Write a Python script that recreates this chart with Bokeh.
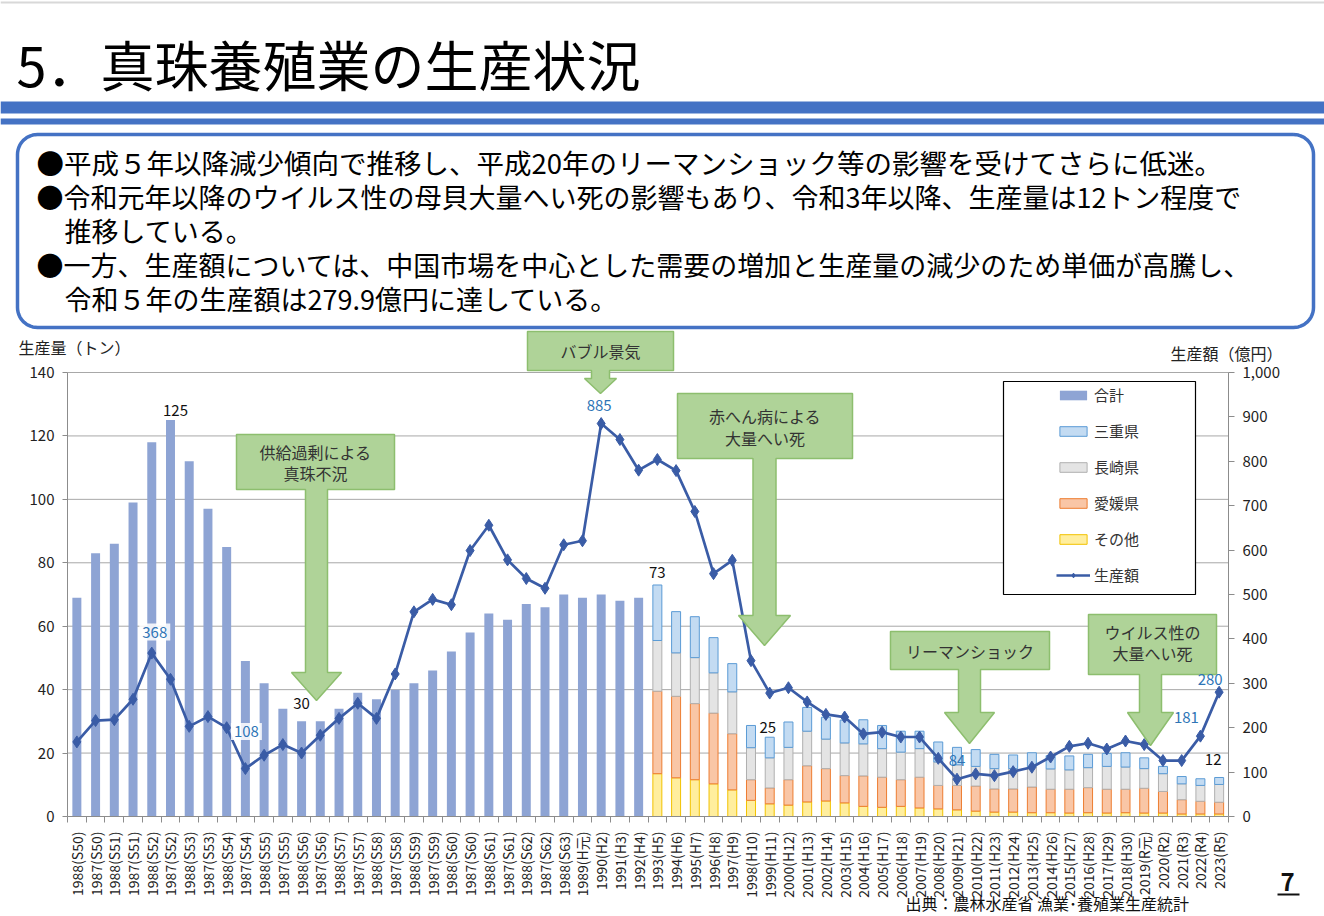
import numpy as np
from bokeh.plotting import figure
from bokeh.models import (Range1d, LinearAxis, FixedTicker, NumeralTickFormatter,
                          Label, Legend, LegendItem)
from bokeh.embed import file_html
from bokeh.resources import INLINE

FONT = "Noto Sans CJK JP"

# ---- data ---------------------------------------------------------------
year_labels = [
    "1988(S50)", "1987(S50)", "1988(S51)", "1987(S51)", "1988(S52)", "1987(S52)",
    "1988(S53)", "1987(S53)", "1988(S54)", "1987(S54)", "1988(S55)", "1987(S55)",
    "1988(S56)", "1987(S56)", "1988(S57)", "1987(S57)", "1988(S58)", "1987(S58)",
    "1988(S59)", "1987(S59)", "1988(S60)", "1987(S60)", "1988(S61)", "1987(S61)",
    "1988(S62)", "1987(S62)", "1988(S63)", "1989(H元)", "1990(H2)", "1991(H3)",
    "1992(H4)", "1993(H5)", "1994(H6)", "1995(H7)", "1996(H8)", "1997(H9)",
    "1998(H10)", "1999(H11)", "2000(H12)", "2001(H13)", "2002(H14)", "2003(H15)",
    "2004(H16)", "2005(H17)", "2006(H18)", "2007(H19)", "2008(H20)", "2009(H21)",
    "2010(H22)", "2011(H23)", "2012(H24)", "2013(H25)", "2014(H26)", "2015(H27)",
    "2016(H28)", "2017(H29)", "2018(H30)", "2019(R元)", "2020(R2)", "2021(R3)",
    "2022(R4)", "2023(R5)",
]

# production volume (t), national total only
total_tons = [69, 83, 86, 99, 118, 125, 112, 97, 85, 49, 42, 34, 30, 30, 34, 39,
              37, 40, 42, 46, 52, 58, 64, 62, 67, 66, 70, 69, 70, 68, 69]

# production volume (t) by prefecture, 1993 onwards
others_tons = [13.5, 12.2, 11.6, 10.3, 8.4, 5.1, 4.0, 3.6, 4.6, 4.9, 4.3, 3.2, 2.9,
               3.2, 2.7, 2.4, 2.1, 1.7, 1.4, 1.4, 1.2, 1.2, 1.1, 1.2, 1.1, 1.2, 1.1,
               1.1, 0.8, 0.8, 0.8]
ehime_tons = [26.0, 25.7, 24.0, 22.3, 17.7, 6.5, 5.0, 8.0, 11.4, 10.2, 8.6, 9.6, 9.5,
              8.4, 9.7, 7.4, 7.7, 7.9, 7.3, 7.3, 8.1, 7.4, 7.5, 7.9, 7.5, 7.4, 7.8,
              6.8, 4.5, 4.0, 3.7]
nagasaki_tons = [16.0, 13.7, 14.5, 12.7, 13.2, 10.1, 9.5, 10.2, 10.9, 9.3, 10.3, 10.1,
                 9.0, 8.7, 9.0, 7.4, 6.5, 6.2, 6.4, 6.4, 6.5, 6.4, 6.1, 6.3, 7.2, 7.0,
                 6.2, 5.6, 5.0, 5.0, 5.6]
mie_tons = [17.5, 13.0, 12.9, 11.1, 8.9, 7.0, 6.5, 8.0, 7.5, 6.9, 7.2, 7.6, 7.3, 6.6,
            5.5, 6.3, 5.5, 5.3, 4.5, 4.3, 4.3, 4.2, 4.4, 4.2, 4.1, 4.5, 3.4, 2.3, 2.3,
            2.1, 2.2]

# production value (100 million yen)
value_oku = [168, 216, 218, 264, 368, 309, 203, 225, 200, 108, 138, 162, 143, 183, 221,
             255, 221, 321, 461, 489, 477, 599, 656, 578, 536, 514, 612, 621, 885, 849,
             780, 804, 779, 687, 547, 577, 351, 278, 290, 258, 230, 224, 186, 190, 179,
             179, 131, 84, 96, 92, 101, 111, 134, 158, 165, 152, 170, 162, 126, 126,
             181, 280]

left_ticks = [0, 20, 40, 60, 80, 100, 120, 140]
right_ticks = [0, 100, 200, 300, 400, 500, 600, 700, 800, 900, 1000]
TONS_MAX, VALUE_MAX = 140, 1000

# ---- page geometry (pixels) ----------------------------------------------
W, H = 1324, 916
FL, FR, FT, FB = 67, 1228, 372, 816      # chart area inside the page

n = len(year_labels)
xs = np.arange(n)
n_tot = len(total_tons)
x_tot = xs[:n_tot]
x_stk = xs[n_tot:]

# the drawing frame covers the whole page; ranges are stretched so that the
# chart itself lands in the FL..FR x FT..FB box
sx = (FR - FL) / n
sy = (FB - FT) / TONS_MAX
sa = (FB - FT) / VALUE_MAX
p = figure(width=W, height=H, output_backend="svg", toolbar_location=None,
           x_axis_type=None, y_axis_type=None,
           x_range=Range1d(-0.5 - FL / sx, n - 0.5 + (W - FR) / sx),
           y_range=Range1d(-(H - FB) / sy, TONS_MAX + FT / sy),
           min_border=0)
p.outline_line_color = None
p.background_fill_color = "white"
p.border_fill_color = "white"
p.extra_y_ranges = {"amt": Range1d(-(H - FB) / sa, VALUE_MAX + FT / sa),
                    "py": Range1d(H, 0)}
p.extra_x_ranges = {"px": Range1d(0, W)}

AX = "#8C8C8C"
TICK_TXT = "#222222"

xa = LinearAxis(fixed_location=0, bounds=(-0.5, n - 0.5),
                ticker=FixedTicker(ticks=list(range(n)),
                                   minor_ticks=[i - 0.5 for i in range(n + 1)]))
xa.major_label_overrides = {i: lab for i, lab in enumerate(year_labels)}
xa.major_label_orientation = np.pi / 2
xa.major_tick_out = 0
xa.major_tick_in = 0
xa.minor_tick_out = 6
xa.minor_tick_in = 0
xa.minor_tick_line_color = AX
xa.axis_line_color = AX
xa.major_label_standoff = 9
xa.major_label_text_font = FONT
xa.major_label_text_font_size = "14px"
xa.major_label_text_color = TICK_TXT
p.add_layout(xa, "below")

ya = LinearAxis(fixed_location=-0.5, bounds=(0, TONS_MAX), ticker=FixedTicker(ticks=left_ticks))
ya.major_tick_out = 5
ya.major_tick_in = 0
ya.minor_tick_line_color = None
ya.axis_line_color = AX
ya.major_tick_line_color = AX
ya.major_label_standoff = 8
ya.major_label_text_font = FONT
ya.major_label_text_font_size = "15px"
ya.major_label_text_color = TICK_TXT
p.add_layout(ya, "left")

ra = LinearAxis(y_range_name="amt", fixed_location=n - 0.5, bounds=(0, VALUE_MAX),
                ticker=FixedTicker(ticks=right_ticks),
                formatter=NumeralTickFormatter(format="0,0"))
ra.major_tick_out = 6
ra.major_tick_in = 0
ra.minor_tick_line_color = None
ra.axis_line_color = AX
ra.major_tick_line_color = AX
ra.major_label_standoff = 8
ra.major_label_text_font = FONT
ra.major_label_text_font_size = "15px"
ra.major_label_text_color = TICK_TXT
p.add_layout(ra, "right")

# horizontal grid lines at the left-axis ticks, across the chart only
p.segment(x0=-0.5, x1=n - 0.5, y0=left_ticks[1:], y1=left_ticks[1:],
          line_color="#A8A8A8", line_width=1)

# ---- bars ---------------------------------------------------------------
BW = 0.48
r_total = p.vbar(x=x_tot, top=total_tons, width=BW, fill_color="#8EA4D4", line_color=None)

stack_series = [
    ("その他", others_tons, "#FFEE9E", "#F2C200"),
    ("愛媛県", ehime_tons, "#F9C6A6", "#ED7D31"),
    ("長崎県", nagasaki_tons, "#E4E4E4", "#B0B0B0"),
    ("三重県", mie_tons, "#C3DBF2", "#5B9BD5"),
]
bottom = np.zeros(len(x_stk))
stack_r = {}
for name, vals, fc, lc in stack_series:
    top = bottom + np.array(vals)
    stack_r[name] = p.vbar(x=x_stk, bottom=bottom, top=top, width=BW,
                           fill_color=fc, line_color=lc, line_width=1)
    bottom = top
stack_total = bottom

LINE_C = "#3A5CA6"
r_line = p.line(xs, value_oku, y_range_name="amt", line_color=LINE_C, line_width=2.7)
r_mark = p.scatter(xs, value_oku, y_range_name="amt", marker="diamond", size=12,
                   fill_color=LINE_C, line_color=LINE_C)


def tons_at(i):
    return total_tons[i] if i < n_tot else float(stack_total[i - n_tot])


# ---- page decorations (page-pixel coordinates) ---------------------------
PXR = dict(x_range_name="px", y_range_name="py")


def box(x0, y0, x1, y1, color):
    p.quad(left=x0, right=x1, top=y0, bottom=y1, fill_color=color, line_color=None, **PXR)


def text(x, y, s, size, align="left", color="#111111", style="normal"):
    p.add_layout(Label(x=x, y=y, text=s, text_font=FONT, text_font_size=size,
                       text_align=align, text_baseline="middle", text_color=color,
                       text_font_style=style, **PXR))


def rounded(x0, y0, x1, y1, r, k=14):
    px_, py_ = [], []
    for cx, cy, a0 in [(x1 - r, y0 + r, -90), (x1 - r, y1 - r, 0),
                       (x0 + r, y1 - r, 90), (x0 + r, y0 + r, 180)]:
        for a in np.radians(np.linspace(a0, a0 + 90, k)):
            px_.append(cx + r * np.cos(a))
            py_.append(cy + r * np.sin(a))
    px_.append(px_[0])
    py_.append(py_[0])
    return px_, py_


# top hairline and blue bands
box(0, 1, W, 3, "#D8D8D8")
box(0, 101, W, 113, "#4472C4")
box(0, 118, W, 124, "#4472C4")

text(16, 63, "5．真珠養殖業の生産状況", "54px", color="#000000")

bx, by = rounded(17, 134, 1313, 327, 20)
p.line(bx, by, line_color="#4472C4", line_width=3.5, **PXR)

BODY = "27.5px"
text(36, 161, "●平成５年以降減少傾向で推移し、平成20年のリーマンショック等の影響を受けてさらに低迷。", BODY, color="#000000")
text(36, 196, "●令和元年以降のウイルス性の母貝大量へい死の影響もあり、令和3年以降、生産量は12トン程度で", "27px", color="#000000")
text(64, 230, "推移している。", "27px", color="#000000")
text(36, 264, "●一方、生産額については、中国市場を中心とした需要の増加と生産量の減少のため単価が高騰し、", "27px", color="#000000")
text(64, 298, "令和５年の生産額は279.9億円に達している。", "27px", color="#000000")

text(18, 346, "生産量（トン）", "16px", color=TICK_TXT)
text(1170, 352, "生産額（億円）", "16px", color=TICK_TXT)


# callouts: box with a downward arrow
def callout(x0, y0, x1, y1, cx, sw, hw, ht, tip, lines, ly):
    xv = [x0, x1, x1, cx + sw / 2, cx + sw / 2, cx + hw / 2, cx, cx - hw / 2,
          cx - sw / 2, cx - sw / 2, x0]
    yv = [y0, y0, y1, y1, ht, ht, tip, ht, ht, y1, y1]
    p.patch(xv, yv, fill_color="#AFD398", line_color="#8DBE6E", line_width=1.5, **PXR)
    for s, yy in zip(lines, ly):
        text((x0 + x1) / 2, yy, s, "16px", align="center", color="#333333")


callout(527, 331, 673, 370, 600, 18, 32, 378, 393, ["バブル景気"], [350])
callout(236, 434, 394, 489, 316, 22, 50, 672, 700, ["供給過剰による", "真珠不況"], [451, 472])
callout(677, 393, 852, 458, 764, 23, 52, 615, 645, ["赤へん病による", "大量へい死"], [415, 437])
callout(890, 631, 1049, 669, 969, 22, 50, 712, 743, ["リーマンショック"], [650])
callout(1088, 614, 1216, 674, 1150, 22, 46, 712, 745, ["ウイルス性の", "大量へい死"], [631, 652])

# bar value labels: (index, dx, dy)
for i, dx, dy in [(5, 5, 10), (12, 0, 18), (31, 0, 12), (37, -2, 10), (61, -6, 18)]:
    v = tons_at(i)
    p.add_layout(Label(x=i, y=v, text=f"{v:.0f}", x_offset=dx, y_offset=dy,
                       text_align="center", text_baseline="middle",
                       text_font=FONT, text_font_size="15px", text_color="#111111"))

# value labels on the line: (index, dx, dy, boxed)
for i, dx, dy, boxed in [(4, 3, 21, True), (9, 1, 37, True), (28, -2, 18, False),
                         (47, 0, 19, False), (60, -14, 19, False), (61, -9, 13, False)]:
    kw = dict(background_fill_color="white", background_fill_alpha=0.85, padding=3) if boxed else {}
    p.add_layout(Label(x=i, y=value_oku[i], y_range_name="amt", text=f"{value_oku[i]:.0f}",
                       x_offset=dx, y_offset=dy, text_align="center", text_baseline="middle",
                       text_font=FONT, text_font_size="15px", text_color="#2E75B6", **kw))

# legend frame and legend
p.quad(left=1003, right=1195, top=381, bottom=594, fill_color="white",
       line_color="#000000", line_width=1.2, **PXR)
legend = Legend(items=[
    LegendItem(label="合計", renderers=[r_total]),
    LegendItem(label="三重県", renderers=[stack_r["三重県"]]),
    LegendItem(label="長崎県", renderers=[stack_r["長崎県"]]),
    LegendItem(label="愛媛県", renderers=[stack_r["愛媛県"]]),
    LegendItem(label="その他", renderers=[stack_r["その他"]]),
    LegendItem(label="生産額", renderers=[r_line, r_mark]),
], location=(1056, H - 585), padding=0, margin=0, spacing=15,
    glyph_width=34, glyph_height=12, label_height=20, label_standoff=4,
    border_line_color=None, background_fill_alpha=0,
    label_text_font=FONT, label_text_font_size="15px", label_text_color="#333333")
p.add_layout(legend)

# footer
text(905, 902, "出典：農林水産省 漁業･養殖業生産統計", "16px", color="#111111")
text(1287, 881, "7", "24px", align="center", color="#111111", style="bold")
box(1277, 893, 1299, 895, "#111111")

open("out.html", "w").write(file_html(p, INLINE))
